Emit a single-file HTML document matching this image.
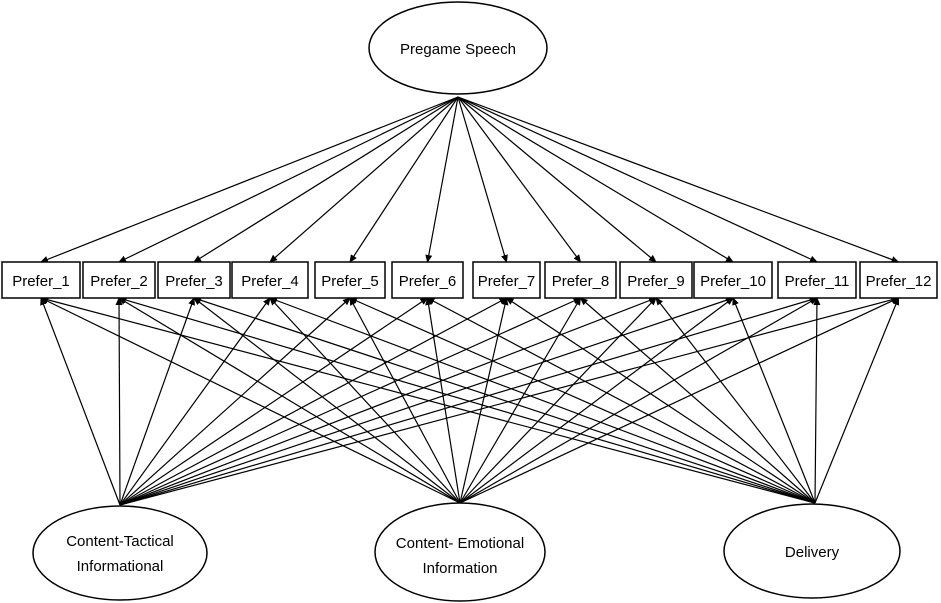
<!DOCTYPE html>
<html><head><meta charset="utf-8"><style>
html,body{margin:0;padding:0;background:#fff;}
svg{display:block;}
text{font-family:"Liberation Sans",sans-serif;fill:#000;}
</style></head><body>
<svg width="941" height="603" viewBox="0 0 941 603" xmlns="http://www.w3.org/2000/svg">
<defs><marker id="a" markerWidth="8" markerHeight="8" refX="7" refY="4" orient="auto" markerUnits="userSpaceOnUse"><path d="M0,0.5 L8,4 L0,7.5 z" fill="#000"/></marker></defs>
<g stroke="#000" stroke-width="1.2" marker-end="url(#a)" id="lines"></g>
<g fill="#fff" stroke="#000" stroke-width="1.5">
<ellipse cx="458" cy="48" rx="89" ry="46"/>
<ellipse cx="120" cy="553" rx="87" ry="47"/>
<ellipse cx="460" cy="552" rx="85" ry="49"/>
<ellipse cx="812" cy="551" rx="88" ry="47"/>
</g>
<g fill="#fff" stroke="#000" stroke-width="1.5" id="boxes"></g>
<g font-size="15" text-anchor="middle">
<text x="458" y="54">Pregame Speech</text>
<text x="120" y="546">Content-Tactical</text>
<text x="120" y="571">Informational</text>
<text x="460" y="548">Content- Emotional</text>
<text x="460" y="573">Information</text>
<text x="812" y="557">Delivery</text>
</g>
<g font-size="15" text-anchor="middle" id="labels"></g>
</svg>
<script>
var B=[[2,80],[83,155],[158,230],[232,308],[315,385],[392,463],[473,540],[545,616],[620,692],[694,772],[778,856],[860,937]];
var ns="http://www.w3.org/2000/svg",L=document.getElementById('lines'),Bx=document.getElementById('boxes'),T=document.getElementById('labels');
function el(p,t,a){var e=document.createElementNS(ns,t);for(var k in a)e.setAttribute(k,a[k]);p.appendChild(e);return e;}
var src=[[120,505],[460,503],[815,503]];
B.forEach(function(b,i){var cx=(b[0]+b[1])/2;
el(L,'line',{x1:458,y1:97,x2:cx,y2:262});
src.forEach(function(s){el(L,'line',{x1:s[0],y1:s[1],x2:cx,y2:298});});
el(Bx,'rect',{x:b[0],y:262,width:b[1]-b[0],height:36});
var t=el(T,'text',{x:cx,y:286});t.textContent='Prefer_'+(i+1);
});
</script>
</body></html>
